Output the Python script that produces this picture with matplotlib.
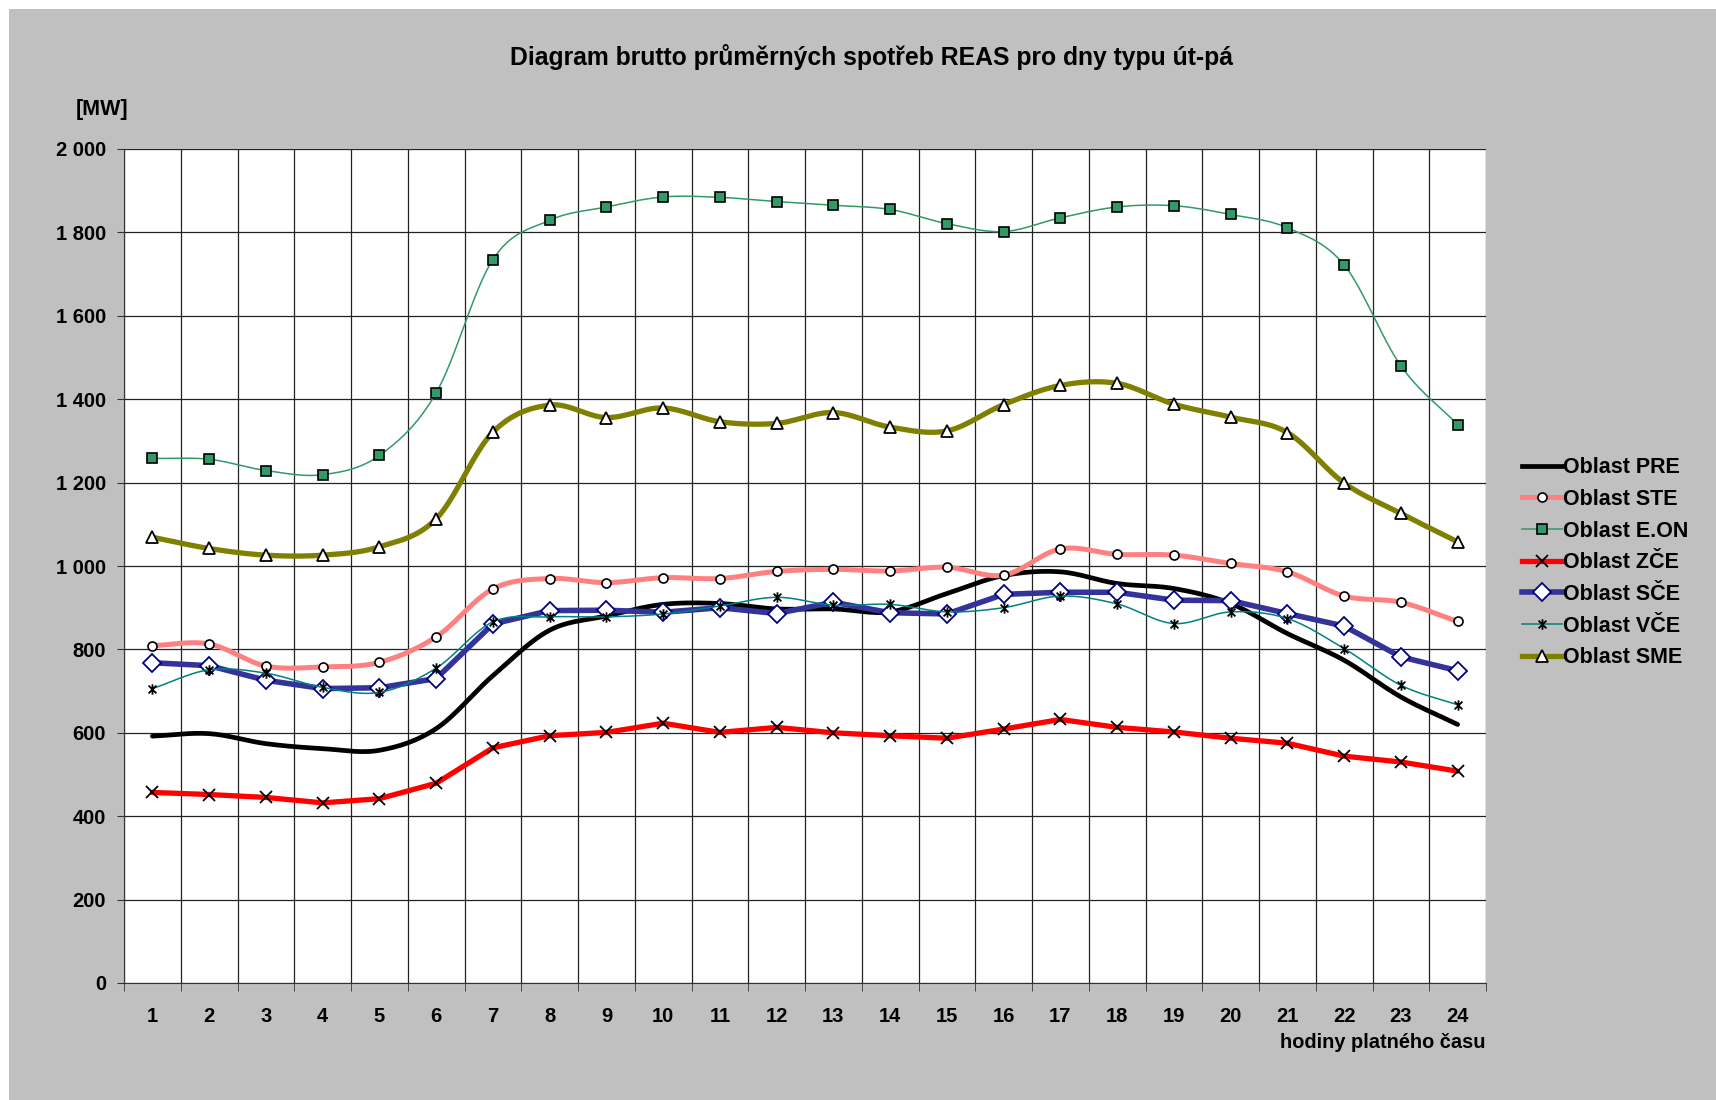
import numpy as np
import matplotlib
matplotlib.use("Agg")
import matplotlib.pyplot as plt
from matplotlib.path import Path
from matplotlib.patches import Rectangle
from matplotlib.ticker import FuncFormatter, MultipleLocator

plt.rcParams['font.family'] = ['Liberation Sans', 'DejaVu Sans']
plt.rcParams['font.weight'] = 'bold'

hours = list(range(1, 25))

pre = [592, 598, 574, 562, 558, 610, 737, 846, 880, 908, 910, 897,
       897, 890, 934, 977, 986, 958, 946, 910, 838, 774, 686, 620]
ste = [809, 813, 760, 758, 769, 830, 945, 970, 960, 972, 970, 987,
       992, 988, 997, 978, 1041, 1028, 1026, 1006, 986, 928, 913, 867]
eon = [1258, 1256, 1229, 1219, 1265, 1415, 1735, 1829, 1861, 1885, 1884, 1874,
       1865, 1855, 1821, 1802, 1835, 1861, 1864, 1843, 1811, 1722, 1480, 1339]
zce = [457, 452, 445, 432, 442, 479, 564, 593, 601, 623, 601, 613,
       600, 593, 587, 609, 632, 613, 602, 587, 575, 544, 530, 508]
sce = [768, 761, 726, 706, 708, 730, 861, 893, 894, 889, 900, 886,
       913, 888, 885, 932, 937, 937, 918, 917, 886, 856, 782, 749]
vce = [706, 751, 743, 709, 697, 755, 866, 878, 878, 885, 904, 925,
       906, 908, 890, 900, 928, 909, 862, 890, 874, 802, 714, 667]
sme = [1069, 1042, 1026, 1026, 1046, 1113, 1321, 1386, 1356, 1379, 1346, 1342,
       1368, 1333, 1324, 1387, 1433, 1438, 1388, 1357, 1320, 1199, 1126, 1058]


def smooth(x, y, n=16):
    # Catmull-Rom curve through the points, like a smoothed spreadsheet line
    x = np.asarray(x, float)
    y = np.asarray(y, float)
    px = np.concatenate([[2 * x[0] - x[1]], x, [2 * x[-1] - x[-2]]])
    py = np.concatenate([[2 * y[0] - y[1]], y, [2 * y[-1] - y[-2]]])
    t = np.linspace(0, 1, n, endpoint=False)
    xs, ys = [], []
    for i in range(1, len(px) - 2):
        for p, out in ((px, xs), (py, ys)):
            p0, p1, p2, p3 = p[i - 1], p[i], p[i + 1], p[i + 2]
            out.extend(0.5 * (2 * p1 + (-p0 + p2) * t
                              + (2 * p0 - 5 * p1 + 4 * p2 - p3) * t ** 2
                              + (-p0 + 3 * p1 - 3 * p2 + p3) * t ** 3))
    xs.append(x[-1])
    ys.append(y[-1])
    return np.array(xs), np.array(ys)


# asterisk marker: vertical bar plus a cross
star = Path([(0, -1), (0, 1), (-0.75, -0.75), (0.75, 0.75), (-0.75, 0.75), (0.75, -0.75)],
            [Path.MOVETO, Path.LINETO, Path.MOVETO, Path.LINETO, Path.MOVETO, Path.LINETO])

series = [
    ("Oblast PRE", pre, dict(color='black', lw=3.4), None, True),
    ("Oblast STE", ste, dict(color='#FF8080', lw=3.6),
     dict(marker='o', ms=6.5, mfc='white', mec='black', mew=1.2), True),
    ("Oblast E.ON", eon, dict(color='#339966', lw=1.1),
     dict(marker='s', ms=6.5, mfc='#339966', mec='black', mew=1.2), True),
    ("Oblast ZČE", zce, dict(color='#FF0000', lw=3.8),
     dict(marker='x', ms=8.5, mfc='none', mec='black', mew=1.3), False),
    ("Oblast SČE", sce, dict(color='#333399', lw=4.0),
     dict(marker='D', ms=9, mfc='white', mec='#000080', mew=1.3), False),
    ("Oblast VČE", vce, dict(color='#008080', lw=1.1),
     dict(marker=star, ms=7.5, mfc='none', mec='black', mew=1.3), True),
    ("Oblast SME", sme, dict(color='#808000', lw=3.8),
     dict(marker='^', ms=8.5, mfc='white', mec='black', mew=1.3), True),
]

W, H = 1716, 1100
fig = plt.figure(figsize=(W / 100, H / 100), dpi=100, facecolor='white')
fig.patches.append(Rectangle((9 / W, 0), 1 - 9 / W, 1 - 9 / H, transform=fig.transFigure,
                             facecolor='#C0C0C0', edgecolor='none', zorder=-10))

ax = fig.add_axes([124 / W, 1 - 983 / H, (1486 - 124) / W, (983 - 149) / H])
ax.set_facecolor('white')

handles = []
for k, (name, vals, lstyle, mstyle, smoothed) in enumerate(series):
    if smoothed:
        sx, sy = smooth(hours, vals)
    else:
        sx, sy = hours, vals
    ax.plot(sx, sy, solid_capstyle='round', zorder=3 + k, **lstyle)
    if mstyle:
        ax.plot(hours, vals, ls='none', zorder=3 + k, **mstyle)
        h, = ax.plot([], [], **lstyle, **mstyle)
    else:
        h, = ax.plot([], [], **lstyle)
    handles.append(h)

ax.set_xlim(0.5, 24.5)
ax.set_ylim(0, 2000)
ax.yaxis.set_major_locator(MultipleLocator(200))
ax.yaxis.set_major_formatter(FuncFormatter(lambda v, p: f"{int(v):,}".replace(",", " ")))
ax.set_xticks(hours)
ax.set_xticks(np.arange(0.5, 25, 1), minor=True)

ax.grid(True, axis='y', which='major', color='#222222', lw=0.9)
ax.grid(True, axis='x', which='minor', color='#222222', lw=0.9)
ax.set_axisbelow(True)
for s in ('top', 'right'):
    ax.spines[s].set_visible(False)
ax.spines['left'].set_color('#333333')
ax.spines['bottom'].set_color('#333333')

ax.tick_params(axis='x', which='major', length=0, pad=17, labelsize=14.5)
ax.tick_params(axis='x', which='minor', length=6, direction='out', color='#333333')
ax.tick_params(axis='y', length=5, direction='out', pad=8, labelsize=14.5, color='#333333')

fig.text(872 / W, 1 - 57 / H, "Diagram brutto průměrných spotřeb REAS pro dny typu út-pá",
         ha='center', va='center', fontsize=17.8, fontweight='bold')
fig.text(102 / W, 1 - 109 / H, "[MW]", ha='center', va='center', fontsize=15.5, fontweight='bold')
fig.text(1486 / W, 1 - 1043 / H, "hodiny platného času", ha='right', va='center',
         fontsize=14.4, fontweight='bold')

fig.legend(handles, [s[0] for s in series], loc='upper left',
           bbox_to_anchor=(1503 / W, 1 - 438 / H), frameon=False,
           handlelength=1.85, handletextpad=0.02, labelspacing=0.495,
           prop={'weight': 'bold', 'size': 15.5})

fig.savefig("out.png", dpi=100, facecolor=fig.get_facecolor())
